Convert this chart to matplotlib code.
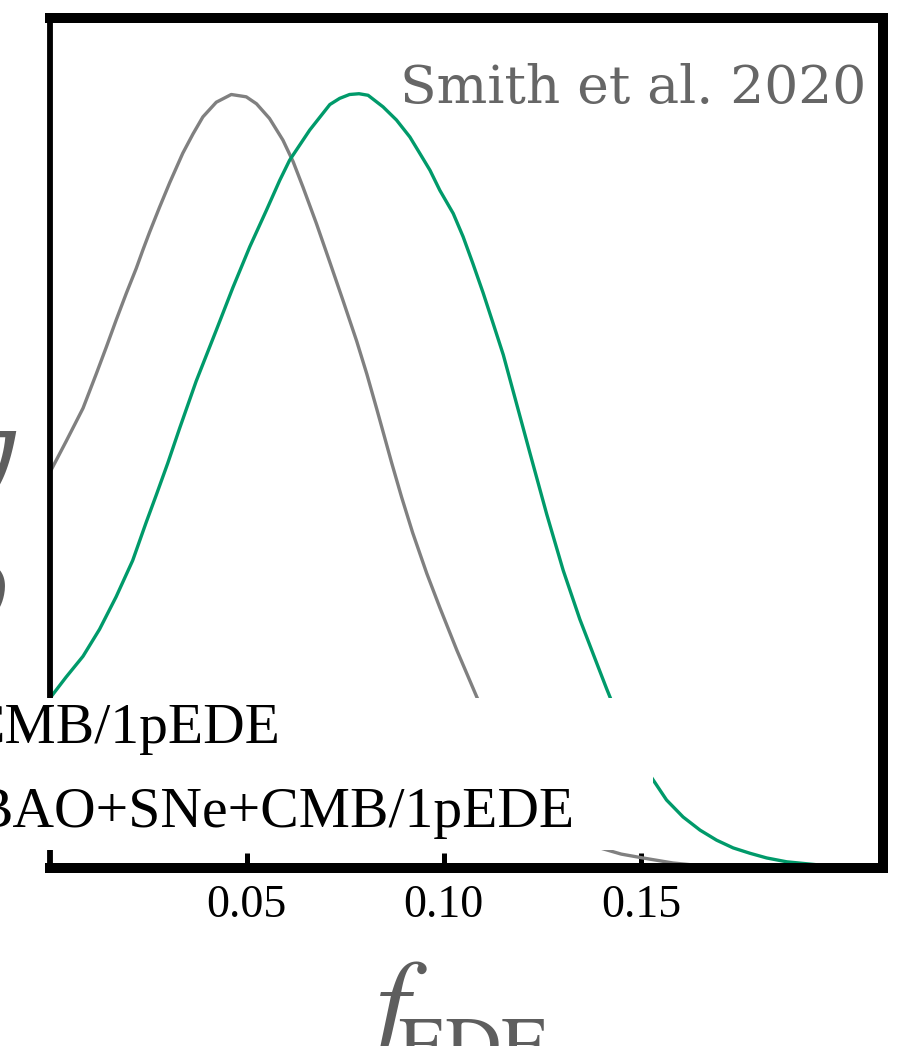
import matplotlib
matplotlib.use("Agg")
import matplotlib.pyplot as plt
from matplotlib.patches import Rectangle

plt.rcParams['mathtext.fontset'] = 'stix'

# Posterior of f_EDE (peak normalised to 1)
f_gray = [0.0000, 0.0042, 0.0085, 0.0119, 0.0144, 0.0169, 0.0195, 0.0220, 0.0237,
          0.0254, 0.0279, 0.0305, 0.0338, 0.0364, 0.0389, 0.0423, 0.0461, 0.0499,
          0.0525, 0.0558, 0.0592, 0.0618, 0.0643, 0.0677, 0.0711, 0.0744, 0.0779,
          0.0805, 0.0830, 0.0855, 0.0868, 0.0893, 0.0921, 0.0957, 0.0990, 0.1033,
          0.1084, 0.1135, 0.1190, 0.1250, 0.1300, 0.1350, 0.1396, 0.1450, 0.1505,
          0.1581, 0.1650, 0.1750, 0.1900, 0.2150]
p_gray = [0.511, 0.552, 0.595, 0.640, 0.674, 0.709, 0.744, 0.776, 0.800,
          0.823, 0.855, 0.887, 0.925, 0.950, 0.972, 0.991, 1.001, 0.998,
          0.989, 0.970, 0.942, 0.914, 0.881, 0.834, 0.784, 0.735, 0.682,
          0.639, 0.594, 0.548, 0.524, 0.480, 0.434, 0.381, 0.337, 0.282,
          0.221, 0.165, 0.118, 0.080, 0.055, 0.037, 0.026, 0.018, 0.013,
          0.0065, 0.003, 0.001, 0.0, 0.0]

f_green = [0.0000, 0.0042, 0.0085, 0.0127, 0.0169, 0.0211, 0.0245, 0.0271, 0.0300,
           0.0330, 0.0372, 0.0423, 0.0465, 0.0508, 0.0550, 0.0584, 0.0609, 0.0660,
           0.0711, 0.0736, 0.0761, 0.0785, 0.0808, 0.0846, 0.0880, 0.0914, 0.0939,
           0.0965, 0.0990, 0.1024, 0.1049, 0.1074, 0.1100, 0.1125, 0.1151, 0.1176,
           0.1201, 0.1218, 0.1261, 0.1303, 0.1345, 0.1388, 0.1413, 0.1440, 0.1470,
           0.1500, 0.1531, 0.1565, 0.1607, 0.1650, 0.1692, 0.1734, 0.1777, 0.1819,
           0.1870, 0.1950, 0.2050, 0.2150]
p_green = [0.219, 0.247, 0.274, 0.309, 0.351, 0.398, 0.447, 0.483, 0.524,
           0.569, 0.630, 0.696, 0.751, 0.804, 0.851, 0.890, 0.916, 0.955,
           0.988, 0.996, 1.001, 1.002, 1.000, 0.985, 0.968, 0.946, 0.925,
           0.903, 0.877, 0.847, 0.817, 0.782, 0.744, 0.705, 0.664, 0.617,
           0.570, 0.538, 0.458, 0.385, 0.322, 0.265, 0.232, 0.198, 0.165,
           0.138, 0.114, 0.088, 0.066, 0.049, 0.036, 0.026, 0.019, 0.013,
           0.008, 0.004, 0.0015, 0.0]

xticks = [0.05, 0.10, 0.15]
xticklabels = ["0.05", "0.10", "0.15"]
legend_labels = ["CMB/1pEDE", "BAO+SNe+CMB/1pEDE"]

W, H = 918, 1046
fig = plt.figure(figsize=(W / 100, H / 100), dpi=100)
ax = fig.add_axes([49.5 / W, 1 - 868 / H, (883 - 49.5) / W, (868 - 18) / H])

ax.plot(f_gray, p_gray, color='#808080', lw=2.4)
ax.plot(f_green, p_green, color='#009a6a', lw=2.4)

ax.set_xlim(0, 0.2114)
ax.set_ylim(0, 1.1)
ax.set_yticks([])
ax.set_xticks(xticks)
ax.set_xticklabels(xticklabels, family='Liberation Serif')
ax.tick_params(axis='x', direction='in', length=11, width=3.6, pad=12,
               labelsize=33, colors='black')

for side in ['top', 'bottom', 'right']:
    ax.spines[side].set_linewidth(7.2)
ax.spines['left'].set_linewidth(4.2)

# white legend box, partly off the left edge
fig.patches.append(Rectangle((-10 / W, 1 - 850 / H), 663 / W, 152 / H,
                             transform=fig.transFigure, facecolor='white',
                             edgecolor='none', zorder=5))
fig.text(-33 / W, 1 - 743 / H, legend_labels[0], family='Liberation Serif',
         fontsize=41.5, color='black', va='baseline', ha='left', zorder=6)
fig.text(-26 / W, 1 - 827 / H, legend_labels[1], family='Liberation Serif',
         fontsize=41.5, color='black', va='baseline', ha='left', zorder=6)

fig.text(866 / W, 1 - 103 / H, "Smith et al. 2020", family='DejaVu Serif',
         fontsize=38.5, color='#666666', ha='right', va='baseline', zorder=6)

# x label (cut at the bottom)
fig.text(358 / W, 1 - 1043 / H, r"$f$", fontsize=86,
         color='#5e5e5e', ha='left', va='baseline')
fig.text(398 / W, 1 - 1071 / H, "EDE", family='STIXGeneral', fontsize=56,
         color='#5e5e5e', ha='left', va='baseline')

# slivers of the neighbouring panel's label on the left edge
fig.text(15 / W, 1 - 497 / H, "y", family='DejaVu Serif', style='italic',
         fontsize=93, color='#5e5e5e', ha='right', va='baseline')
fig.text(10 / W, 1 - 625 / H, "o", family='DejaVu Serif', style='italic',
         fontsize=85, color='#5e5e5e', ha='right', va='baseline')

fig.savefig("out.png", dpi=100)
